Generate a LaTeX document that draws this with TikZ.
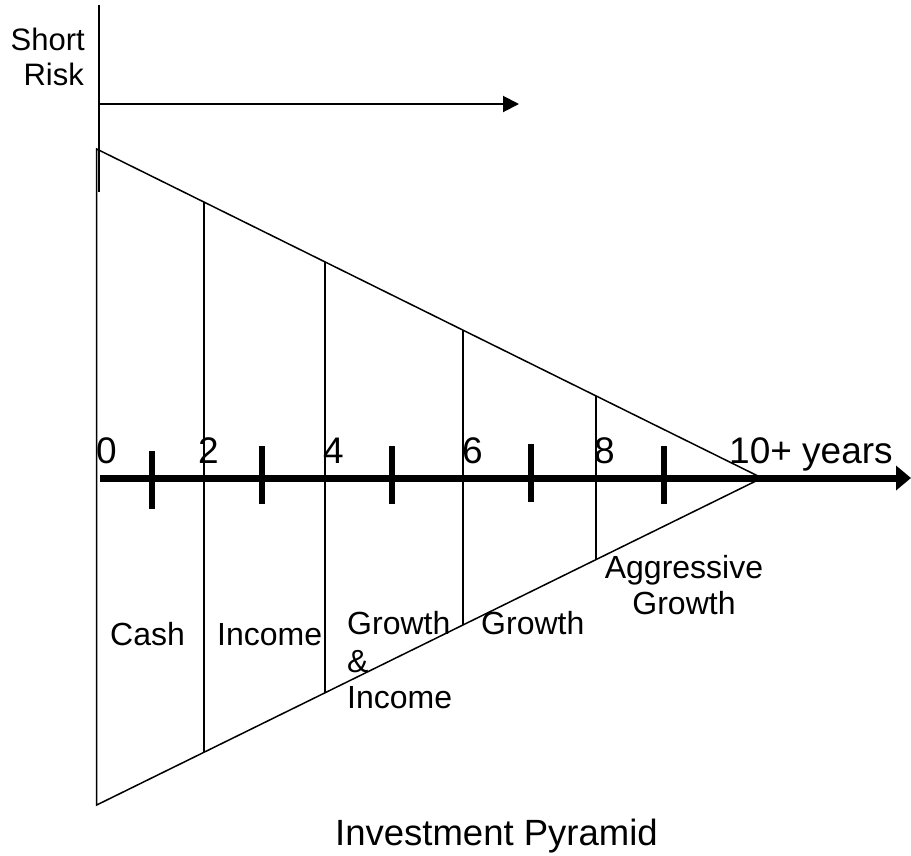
\documentclass[tikz,border=0pt]{standalone}
\usepackage{fontspec}
\setmainfont{Liberation Sans}
\usetikzlibrary{arrows.meta}
\tikzset{
  thinline/.style={line width=1.5pt, draw=black},
  riskline/.style={line width=2pt, draw=black},
  axisline/.style={line width=7pt, draw=black},
  tickmark/.style={line width=6pt, draw=black},
  lbl/.style={inner sep=0pt, font=\fontsize{32}{38}\selectfont},
  axlbl/.style={inner sep=0pt, font=\fontsize{37}{42}\selectfont},
  risklbl/.style={inner sep=0pt, font=\fontsize{31}{36}\selectfont},
  titlelbl/.style={inner sep=0pt, font=\fontsize{36.5}{42}\selectfont}
}
\begin{document}
\begin{tikzpicture}[x=1pt,y=-1pt]
\useasboundingbox (0,0) rectangle (911,855);
% risk axis
\coordinate (rtop) at (98.5,5);
\coordinate (rbot) at (98.5,192);
\coordinate (rstart) at (98.5,104);
\coordinate (rend) at (519,104);
\draw[riskline] (rtop) -- (rbot);
\draw[riskline, -{Triangle[length=16pt,width=16pt]}] (rstart) -- (rend);
\node[risklbl, anchor=base east] (short) at (85,50) {Short};
\node[risklbl, anchor=base east] (risk) at (84,85) {Risk};
% triangle
\coordinate (A) at (96.7,149);
\coordinate (R) at (762,478);
\coordinate (B) at (96.7,805);
\draw[thinline, line join=miter] (A) -- (R) -- (B) -- cycle;
% separators
\coordinate (s1t) at (204,202.1); \coordinate (s1b) at (204,752.3);
\coordinate (s2t) at (325,261.9); \coordinate (s2b) at (325,692.8);
\coordinate (s3t) at (463,330.1); \coordinate (s3b) at (463,625);
\coordinate (s4t) at (596,395.9); \coordinate (s4b) at (596,559.6);
\draw[thinline] (s1t) -- (s1b);
\draw[thinline] (s2t) -- (s2b);
\draw[thinline] (s3t) -- (s3b);
\draw[thinline] (s4t) -- (s4b);
% time axis
\coordinate (ax0) at (100,478);
\coordinate (ax1) at (911,478);
\draw[axisline, -{Triangle[length=15pt,width=24pt]}] (ax0) -- (ax1);
\coordinate (t1a) at (152,451); \coordinate (t1b) at (152,509);
\coordinate (t2a) at (262,446); \coordinate (t2b) at (262,504);
\coordinate (t3a) at (392,446); \coordinate (t3b) at (392,504);
\coordinate (t4a) at (531,444); \coordinate (t4b) at (531,502);
\coordinate (t5a) at (664,446); \coordinate (t5b) at (664,504);
\draw[tickmark] (t1a) -- (t1b);
\draw[tickmark] (t2a) -- (t2b);
\draw[tickmark] (t3a) -- (t3b);
\draw[tickmark] (t4a) -- (t4b);
\draw[tickmark] (t5a) -- (t5b);
\node[axlbl, anchor=base west] (n0) at (96,463) {0};
\node[axlbl, anchor=base west] (n2) at (198,463) {2};
\node[axlbl, anchor=base west] (n4) at (323,463) {4};
\node[axlbl, anchor=base west] (n6) at (462,463) {6};
\node[axlbl, anchor=base west] (n8) at (594,463) {8};
\node[axlbl, anchor=base west] (n10) at (729,463) {10+ years};
% segment labels
\node[lbl, anchor=base west] (cash) at (110,645) {Cash};
\node[lbl, anchor=base west] (income) at (217,645) {Income};
\node[lbl, anchor=base west] (gi1) at (347,634) {Growth};
\node[lbl, anchor=base west] (gi2) at (347,672) {\&};
\node[lbl, anchor=base west] (gi3) at (347,708) {Income};
\node[lbl, anchor=base west] (growth) at (481,634) {Growth};
\node[lbl, anchor=base] (ag1) at (684,578) {Aggressive};
\node[lbl, anchor=base] (ag2) at (684,614) {Growth};
% title
\node[titlelbl, anchor=base west] (title) at (335,845) {Investment Pyramid};
\end{tikzpicture}
\end{document}
